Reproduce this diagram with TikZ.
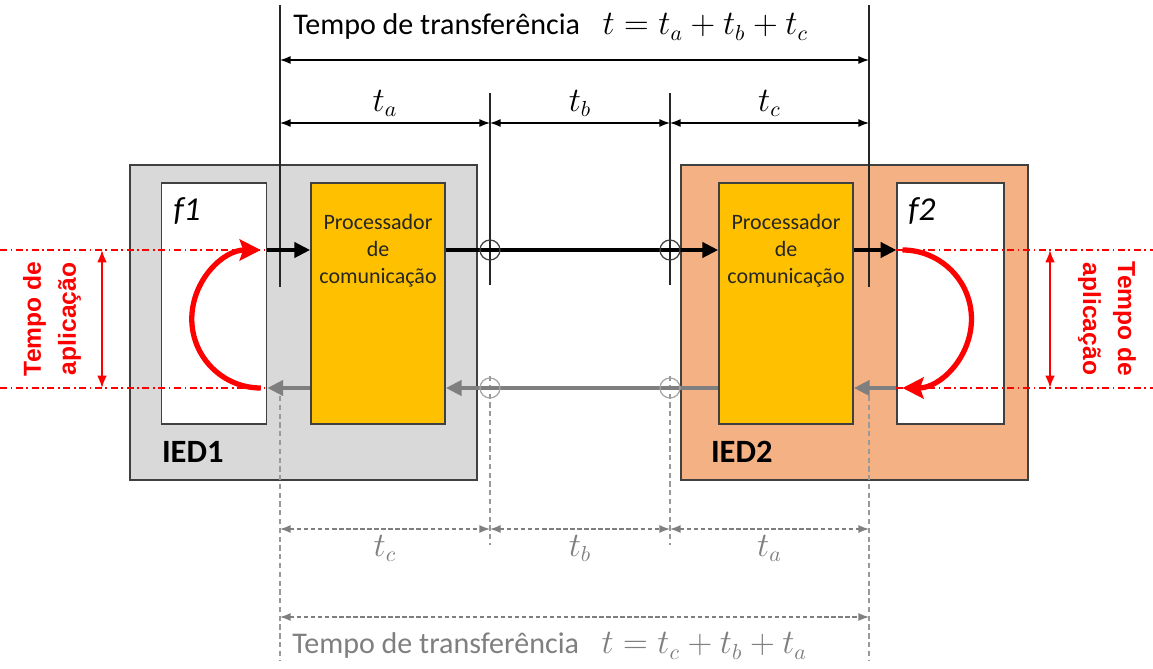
\documentclass[tikz,border=0pt]{standalone}
\usepackage{graphicx}
\usepackage{fontspec}
\setmainfont{Carlito}
\newfontfamily\redfont{Liberation Sans}
\usetikzlibrary{arrows.meta,positioning,calc}
\definecolor{iedgray}{HTML}{D9D9D9}
\definecolor{iedorange}{HTML}{F4B183}
\definecolor{procyellow}{HTML}{FFC000}
\definecolor{backgray}{HTML}{7F7F7F}
\definecolor{appred}{HTML}{FF0000}

\newcommand{\mathbig}[1]{{\fontsize{16}{19}\selectfont\scalebox{1.13}{$#1$}}}

\tikzset{
  iedbox/.style={draw=black!75, line width=0.9pt, minimum width=6.94cm, minimum height=6.3cm},
  funcbox/.style={draw=black!75, line width=0.9pt, fill=white, minimum width=2.1cm, minimum height=4.83cm},
  procbox/.style={draw=black!75, line width=0.9pt, fill=procyellow, minimum width=2.68cm, minimum height=4.83cm},
  proctext/.style={anchor=north, align=center, inner sep=0pt, text=black!85, font=\fontsize{12.5}{15.4}\selectfont},
  iedlabel/.style={anchor=base west, inner sep=0pt, font=\fontsize{18.5}{22}\selectfont\bfseries},
  funclabel/.style={anchor=base west, inner sep=0pt, font=\fontsize{19}{22}\selectfont\itshape},
  fwdarrow/.style={line width=2.3pt, -{Triangle[length=9pt,width=8.5pt]}},
  backarrow/.style={fwdarrow, draw=backgray},
  tickline/.style={line width=0.7pt, draw=black!85},
  tickback/.style={line width=0.7pt, draw=backgray!80, dash pattern=on 3pt off 2pt},
  dimline/.style={line width=0.7pt, {Latex[length=6pt,width=4.5pt]}-{Latex[length=6pt,width=4.5pt]}},
  dimback/.style={dimline, draw=backgray, dash pattern=on 2.5pt off 1.5pt},
  timelabel/.style={font=\fontsize{17.1}{20}\selectfont},
  junction/.style={circle, draw=black!75, line width=0.7pt, minimum size=0.4cm, inner sep=0pt},
  junctionback/.style={junction, draw=backgray!70},
  appline/.style={draw=appred, line width=0.7pt, dash pattern=on 4pt off 2pt on 1pt off 2pt},
  appspan/.style={draw=appred, line width=1.1pt, {Latex[length=7pt,width=5.5pt]}-{Latex[length=7pt,width=5.5pt]}},
  apparc/.style={draw=appred, line width=3pt, -{Stealth[length=12pt,width=12pt,inset=2pt]}},
  apptext/.style={align=center, text=appred, font=\redfont\bfseries\fontsize{14}{20}\selectfont}
}

\begin{document}
\begin{tikzpicture}
  \useasboundingbox (0,0) rectangle (23.06,13.36);

  % equipment boxes
  \node[iedbox, fill=iedgray] (ied1) at (6.07,6.91) {};
  \node[iedbox, fill=iedorange, minimum width=6.95cm] (ied2) at (17.09,6.91) {};
  \node[funcbox] (f1) at (4.28,7.29) {};
  \node[procbox] (proc1) at (7.56,7.29) {};
  \node[procbox] (proc2) at (15.72,7.29) {};
  \node[funcbox, minimum width=2.13cm] (f2) at (19.01,7.29) {};

  \node[proctext] (proc1txt) at ($(proc1.north)+(0,-0.64)$) {Processador\\de\\comunicação};
  \node[proctext] (proc2txt) at ($(proc2.north)+(0,-0.64)$) {Processador\\de\\comunicação};
  \node[iedlabel] (ied1txt) at ($(f1.south west)+(0.02,-0.74)$) {IED1};
  \node[iedlabel] (ied2txt) at ($(proc2.south west)+(-0.15,-0.74)$) {IED2};
  \node[funclabel] (f1txt) at ($(f1.north west)+(0.25,-0.78)$) {f1};
  \node[funclabel] (f2txt) at ($(f2.north west)+(0.23,-0.78)$) {f2};

  % reference positions
  \coordinate (xa) at (5.6,0);
  \coordinate (xb) at (9.8,0);
  \coordinate (xc) at (13.4,0);
  \coordinate (xd) at (17.38,0);
  \coordinate (xl) at (2.04,0);
  \coordinate (xr) at (21.0,0);
  \coordinate (ytop) at (0,8.36);
  \coordinate (ybot) at (0,5.6);

  % measuring marks
  \draw[tickline] (xa |- 0,13.26) -- (xa |- 0,7.62);
  \draw[tickline] (xd |- 0,13.26) -- (xd |- 0,7.62);
  \draw[tickline] (xb |- 0,11.5) -- (xb |- 0,7.66);
  \draw[tickline] (xc |- 0,11.5) -- (xc |- 0,7.66);
  \draw[tickback] (xa |- 0,5.44) -- (xa |- 0,0.16);
  \draw[tickback] (xd |- 0,5.44) -- (xd |- 0,0.16);
  \draw[tickback] (xb |- 0,5.84) -- (xb |- 0,2.46);
  \draw[tickback] (xc |- 0,5.84) -- (xc |- 0,2.46);

  \node[timelabel, anchor=west, inner sep=0pt] (ttop) at (5.86,12.82)
    {Tempo de transferência\hspace{0.75em}\mathbig{t = t_a + t_b + t_c}};
  \draw[dimline] (xa |- 0,12.16) -- (xd |- 0,12.16);
  \draw[dimline] (xa |- 0,10.9) -- node[above=0pt] (lta) {\mathbig{t_a}} (xb |- 0,10.9);
  \draw[dimline] (xb |- 0,10.9) -- node[above=0pt] (ltb) {\mathbig{t_b}} (xc |- 0,10.9);
  \draw[dimline] (xc |- 0,10.9) -- node[above=0pt] (ltc) {\mathbig{t_c}} (xd |- 0,10.9);

  \draw[dimback] (xa |- 0,2.78) -- node[below=0pt, text=backgray] (btc) {\mathbig{t_c}} (xb |- 0,2.78);
  \draw[dimback] (xb |- 0,2.78) -- node[below=0pt, text=backgray] (btb) {\mathbig{t_b}} (xc |- 0,2.78);
  \draw[dimback] (xc |- 0,2.78) -- node[below=0pt, text=backgray] (bta) {\mathbig{t_a}} (xd |- 0,2.78);
  \draw[dimback] (xa |- 0,1.02) -- (xd |- 0,1.02);
  \node[timelabel, anchor=west, inner sep=0pt, text=backgray] (tbot) at (5.84,0.44)
    {Tempo de transferência\hspace{0.75em}\mathbig{t = t_c + t_b + t_a}};

  % application time
  \draw[appline] (0,8.36) -- (f1.east |- ytop);
  \draw[appline] (0,5.6) -- (f1.east |- ybot);
  \draw[appline] (f2.west |- ytop) -- (23.06,8.36);
  \draw[appline] (f2.west |- ybot) -- (23.06,5.6);
  \draw[appspan] (xl |- ytop) -- (xl |- ybot);
  \draw[appspan] (xr |- ytop) -- (xr |- ybot);
  \node[apptext, rotate=90] (app1) at (1.04,6.98) {Tempo de\\aplicação};
  \node[apptext, rotate=-90] (app2) at (22.14,6.98) {Tempo de\\aplicação};
  \draw[apparc] ($(f1.east |- ybot)+(-0.13,0)$) arc[start angle=270, end angle=90, radius=1.38cm];
  \draw[apparc] ($(f2.west |- ytop)+(0.12,0)$) arc[start angle=90, end angle=-90, radius=1.38cm];

  % message flow
  \draw[fwdarrow] (f1.east |- ytop) -- (proc1.west |- ytop);
  \draw[fwdarrow] (proc1.east |- ytop) -- (proc2.west |- ytop);
  \draw[fwdarrow] (proc2.east |- ytop) -- (f2.west |- ytop);
  \draw[backarrow] (f2.west |- ybot) -- (proc2.east |- ybot);
  \draw[backarrow] (proc2.west |- ybot) -- (proc1.east |- ybot);
  \draw[backarrow] (proc1.west |- ybot) -- (f1.east |- ybot);

  \node[junction] (jb1) at (xb |- ytop) {};
  \node[junction] (jc1) at (xc |- ytop) {};
  \node[junctionback] (jb2) at (xb |- ybot) {};
  \node[junctionback] (jc2) at (xc |- ybot) {};
\end{tikzpicture}
\end{document}
